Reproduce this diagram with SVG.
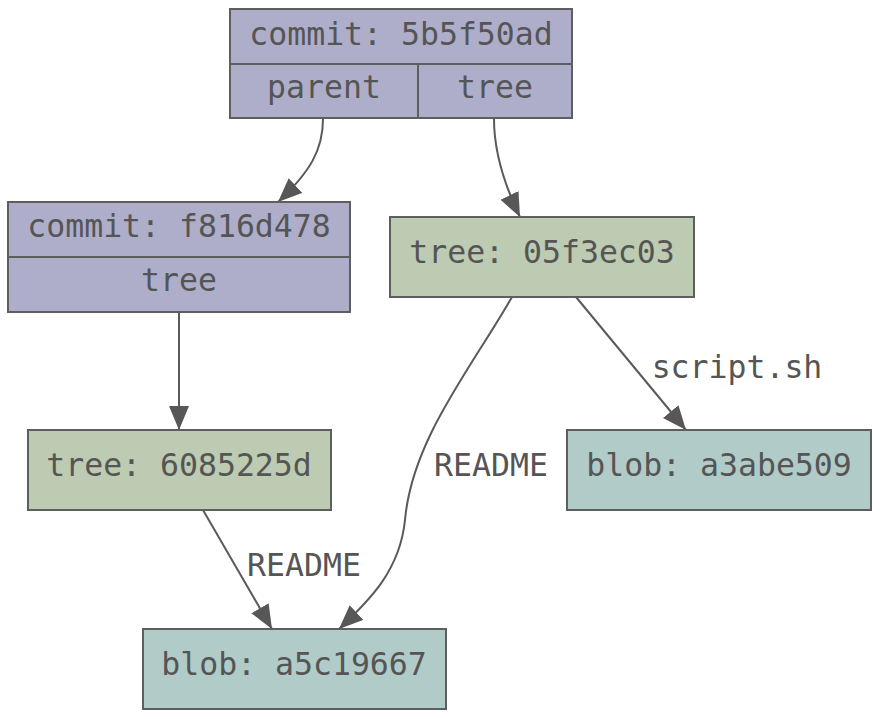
<svg xmlns="http://www.w3.org/2000/svg" width="880" height="719" viewBox="0 0 880 719">
<style>
.box{stroke:#5e5e5e;stroke-width:2}
.commit{fill:#aeaecb}
.tree{fill:#bccbb1}
.blob{fill:#b1cbc8}
.div{stroke:#5e5e5e;stroke-width:2;fill:none}
text{font-family:"DejaVu Sans Mono","Liberation Mono",monospace;font-size:31.5px;fill:#555555;text-anchor:middle}
.edge{fill:none;stroke:#5a5a5a;stroke-width:2}
</style>
<defs>
<marker id="arr" markerUnits="userSpaceOnUse" markerWidth="26" markerHeight="22" refX="24" refY="10" orient="auto">
<path d="M0,0 L24,10 L0,20 z" fill="#575757"/>
</marker>
</defs>
<rect width="880" height="719" fill="#fff"/>
<g id="connectors">
<path class="edge" d="M323,119 C323,150 310,172 278,202" marker-end="url(#arr)"/>
<path class="edge" d="M494,119 C494,150 502,180 520,217" marker-end="url(#arr)"/>
<path class="edge" d="M179,312 L179,430" marker-end="url(#arr)"/>
<path class="edge" d="M512,297 C470,370 412,440 405,520 C400,570 370,600 339,629" marker-end="url(#arr)"/>
<path class="edge" d="M576,297 L686,430" marker-end="url(#arr)"/>
<path class="edge" d="M203,510 L272,629" marker-end="url(#arr)"/>
<text x="737" y="378">script.sh</text>
<text x="491" y="476">README</text>
<text x="304" y="576">README</text>
</g>
<g id="commit_5b5f50ad">
<rect class="box commit" x="230" y="9" width="342" height="109"/>
<path class="div" d="M230,64 H572 M418,64 V118"/>
<text x="401" y="45">commit: 5b5f50ad</text>
<text x="324" y="98">parent</text>
<text x="495" y="98">tree</text>
</g>
<g id="commit_f816d478">
<rect class="box commit" x="8" y="202" width="342" height="110"/>
<path class="div" d="M8,257 H350"/>
<text x="179" y="237">commit: f816d478</text>
<text x="179" y="291">tree</text>
</g>
<g id="tree_05f3ec03">
<rect class="box tree" x="390" y="217" width="304" height="80"/>
<text x="542" y="263">tree: 05f3ec03</text>
</g>
<g id="tree_6085225d">
<rect class="box tree" x="28" y="430" width="303" height="80"/>
<text x="179" y="476">tree: 6085225d</text>
</g>
<g id="blob_a3abe509">
<rect class="box blob" x="567" y="430" width="304" height="80"/>
<text x="719" y="476">blob: a3abe509</text>
</g>
<g id="blob_a5c19667">
<rect class="box blob" x="143" y="629" width="303" height="80"/>
<text x="294" y="675">blob: a5c19667</text>
</g>
</svg>
